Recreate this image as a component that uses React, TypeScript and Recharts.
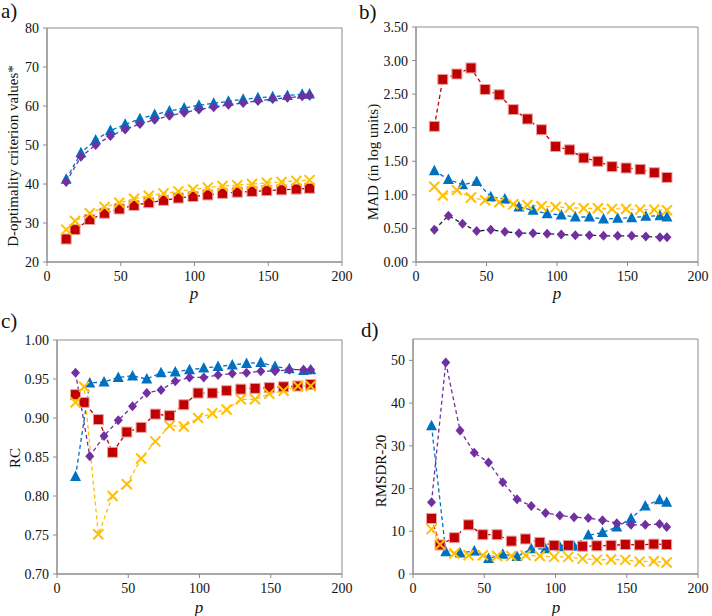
import React from "react";
import { LineChart, Line, XAxis, YAxis, ReferenceArea } from "recharts";

// x positions (p) used by each group of series
const pRY = [13, 19, 29, 39, 49, 59, 69, 79, 89, 99, 109, 119, 129, 139, 149, 159, 169, 178];
const pBP = [13, 23, 33, 43, 53, 63, 73, 83, 93, 103, 113, 123, 133, 143, 153, 163, 173, 178];

const xTicks = [0, 50, 100, 150, 200];

// a) D-optimality criterion values*
const aRed = [25.9, 28.3, 30.9, 32.5, 33.6, 34.5, 35.2, 35.8, 36.4, 36.8, 37.2, 37.6, 37.9, 38.1, 38.3, 38.5, 38.7, 38.9];
const aYellow = [28.3, 30.5, 32.5, 34.1, 35.2, 36.2, 37.0, 37.6, 38.1, 38.6, 39.1, 39.5, 39.7, 40.0, 40.3, 40.5, 40.8, 41.0];
const aBlue = [41.2, 48.0, 51.3, 53.7, 55.3, 56.7, 57.8, 58.7, 59.5, 60.2, 60.7, 61.2, 61.7, 62.1, 62.4, 62.7, 63.0, 63.1];
const aPurple = [40.5, 47.0, 50.0, 52.3, 54.0, 55.4, 56.5, 57.5, 58.3, 59.1, 59.7, 60.3, 60.8, 61.3, 61.8, 62.1, 62.5, 62.6];
const aTicks = [20, 30, 40, 50, 60, 70, 80];

// b) MAD
const bRed = [2.02, 2.72, 2.80, 2.89, 2.57, 2.49, 2.27, 2.13, 1.97, 1.72, 1.67, 1.55, 1.50, 1.42, 1.40, 1.38, 1.33, 1.26];
const bYellow = [1.12, 0.99, 1.07, 0.96, 0.92, 0.89, 0.86, 0.85, 0.83, 0.82, 0.81, 0.80, 0.80, 0.79, 0.79, 0.78, 0.78, 0.77];
const bBlue = [1.36, 1.23, 1.15, 1.20, 0.97, 0.94, 0.82, 0.77, 0.72, 0.70, 0.67, 0.67, 0.64, 0.65, 0.66, 0.68, 0.69, 0.67];
const bPurple = [0.48, 0.69, 0.57, 0.46, 0.48, 0.45, 0.43, 0.43, 0.42, 0.41, 0.40, 0.40, 0.39, 0.39, 0.39, 0.38, 0.37, 0.37];
const bTicks = [0, 0.5, 1, 1.5, 2, 2.5, 3, 3.5];

// c) RC
const cRed = [0.930, 0.920, 0.898, 0.856, 0.882, 0.888, 0.905, 0.903, 0.917, 0.932, 0.932, 0.935, 0.937, 0.938, 0.939, 0.940, 0.941, 0.943];
const cYellow = [0.920, 0.940, 0.751, 0.800, 0.815, 0.848, 0.870, 0.890, 0.889, 0.900, 0.906, 0.911, 0.924, 0.924, 0.931, 0.935, 0.941, 0.941];
const cBlue = [0.825, 0.945, 0.946, 0.952, 0.954, 0.950, 0.958, 0.959, 0.962, 0.964, 0.966, 0.968, 0.970, 0.971, 0.966, 0.963, 0.961, 0.962];
const cPurple = [0.958, 0.851, 0.877, 0.897, 0.915, 0.932, 0.936, 0.947, 0.952, 0.952, 0.955, 0.957, 0.958, 0.960, 0.960, 0.962, 0.962, 0.962];
const cTicks = [0.7, 0.75, 0.8, 0.85, 0.9, 0.95, 1.0];

// d) RMSDR-20
const dRed = [13.0, 6.8, 8.5, 11.5, 9.2, 9.2, 7.7, 8.2, 7.4, 6.7, 6.7, 6.5, 6.6, 6.7, 6.9, 6.8, 7.0, 6.9];
const dYellow = [10.5, 6.9, 4.8, 4.4, 4.4, 4.2, 4.2, 4.4, 4.2, 4.0, 4.0, 3.6, 3.3, 3.4, 3.3, 2.9, 3.0, 2.7];
const dBlue = [34.7, 5.2, 4.9, 5.4, 3.6, 4.6, 4.1, 5.9, 5.9, 6.4, 6.5, 9.1, 9.7, 11.0, 13.0, 15.9, 17.4, 16.8];
const dPurple = [16.8, 49.5, 33.6, 28.4, 26.1, 21.5, 17.5, 15.9, 14.3, 13.7, 13.3, 13.1, 12.6, 11.9, 11.5, 11.5, 11.7, 11.0];
const dTicks = [0, 10, 20, 30, 40, 50];

const RED = "#C00000";
const YELLOW = "#FFC000";
const BLUE = "#0070C0";
const PURPLE = "#7030A0";
const FONT = "Liberation Serif";
const AXIS = "#8c8c8c";

const pts = (xs: number[], ys: number[]) => xs.map((p, i) => ({ p, v: ys[i] }));

const square = (pr: any) => (
  <rect key={pr.index} x={pr.cx - 5} y={pr.cy - 5} width={10} height={10} fill={RED} stroke="#e9a3a3" strokeWidth={1} />
);
const cross = (pr: any) => (
  <g key={pr.index} stroke={YELLOW} strokeWidth={2}>
    <line x1={pr.cx - 5} y1={pr.cy - 5} x2={pr.cx + 5} y2={pr.cy + 5} />
    <line x1={pr.cx - 5} y1={pr.cy + 5} x2={pr.cx + 5} y2={pr.cy - 5} />
  </g>
);
const triangle = (pr: any) => (
  <polygon key={pr.index} points={`${pr.cx},${pr.cy - 6} ${pr.cx - 5.5},${pr.cy + 4.5} ${pr.cx + 5.5},${pr.cy + 4.5}`} fill={BLUE} />
);
const diamond = (pr: any) => (
  <polygon key={pr.index} points={`${pr.cx},${pr.cy - 5} ${pr.cx + 4.5},${pr.cy} ${pr.cx},${pr.cy + 5} ${pr.cx - 4.5},${pr.cy}`} fill={PURPLE} />
);

function Panel({ left, top, yWidth, mTop, xHeight, domain, ticks, fmt, red, yellow, blue, purple, purpleLine }: any) {
  const tick = { fill: "#111", fontSize: 14, fontFamily: FONT };
  return (
    <div style={{ position: "absolute", left, top }}>
      <LineChart width={356} height={308} margin={{ top: mTop, right: 14, left: 0, bottom: 0 }}>
        <XAxis dataKey="p" type="number" domain={[0, 200]} ticks={xTicks} height={xHeight}
          tick={tick} stroke={AXIS} tickSize={4} tickMargin={5} allowDataOverflow />
        <YAxis type="number" domain={domain} ticks={ticks} width={yWidth} tickFormatter={fmt}
          tick={tick} stroke={AXIS} tickSize={4} tickMargin={4} allowDataOverflow />
        <ReferenceArea x1={0} x2={200} y1={domain[0]} y2={domain[1]} fill="none" stroke={AXIS} strokeWidth={1} />
        <Line data={pts(pBP, blue)} dataKey="v" stroke={BLUE} strokeWidth={1.3} strokeDasharray="4 3" dot={triangle} isAnimationActive={false} />
        <Line data={pts(pBP, purple)} dataKey="v" stroke={purpleLine || PURPLE} strokeWidth={1.3} strokeDasharray="4 3" dot={diamond} isAnimationActive={false} />
        <Line data={pts(pRY, red)} dataKey="v" stroke={RED} strokeWidth={1.3} strokeDasharray="4 3" dot={square} isAnimationActive={false} />
        <Line data={pts(pRY, yellow)} dataKey="v" stroke={YELLOW} strokeWidth={1.3} strokeDasharray="4 3" dot={cross} isAnimationActive={false} />
      </LineChart>
    </div>
  );
}

const txt = (extra: any): any => ({ position: "absolute", fontFamily: FONT, color: "#111", whiteSpace: "nowrap", ...extra });

function YTitle({ x, y, children }: any) {
  return (
    <div style={txt({ left: x, top: y, fontSize: 15, transform: "translate(-50%, -50%) rotate(-90deg)", lineHeight: "16px" })}>{children}</div>
  );
}

function XTitle({ x, y }: any) {
  return <div style={txt({ left: x, top: y, fontSize: 17, fontStyle: "italic", transform: "translate(-50%, -50%)", lineHeight: "18px" })}>p</div>;
}

function Letter({ x, y, children }: any) {
  return <div style={txt({ left: x, top: y, fontSize: 21, lineHeight: "22px" })}>{children}</div>;
}

export default function App() {
  const f2 = (v: number) => v.toFixed(2);
  return (
    <div style={{ position: "absolute", left: 0, top: 0, width: 712, height: 616, background: "#fff", overflow: "hidden", fontFamily: FONT }}>
      <Panel left={0} top={0} yWidth={47} mTop={28} xHeight={46} domain={[20, 80]} ticks={aTicks}
        red={aRed} yellow={aYellow} blue={aBlue} purple={aPurple} />
      <Panel left={356} top={0} yWidth={60} mTop={27} xHeight={46} domain={[0, 3.5]} ticks={bTicks} fmt={f2}
        red={bRed} yellow={bYellow} blue={bBlue} purple={bPurple} purpleLine="#222" />
      <Panel left={0} top={308} yWidth={57} mTop={32} xHeight={42} domain={[0.7, 1.0]} ticks={cTicks} fmt={f2}
        red={cRed} yellow={cYellow} blue={cBlue} purple={cPurple} />
      <Panel left={356} top={308} yWidth={57} mTop={31} xHeight={42} domain={[0, 55]} ticks={dTicks}
        red={dRed} yellow={dYellow} blue={dBlue} purple={dPurple} />

      <Letter x={1} y={0}>a)</Letter>
      <Letter x={359} y={1}>b)</Letter>
      <Letter x={1} y={310}>c)</Letter>
      <Letter x={361} y={319}>d)</Letter>

      <YTitle x={13} y={156}>D-optimality criterion values*</YTitle>
      <YTitle x={373} y={162}>MAD (in log units)</YTitle>
      <YTitle x={15} y={458}>RC</YTitle>
      <YTitle x={381} y={471}>RMSDR-20</YTitle>

      <XTitle x={194} y={294} />
      <XTitle x={557} y={294} />
      <XTitle x={199} y={608} />
      <XTitle x={556} y={608} />
    </div>
  );
}
